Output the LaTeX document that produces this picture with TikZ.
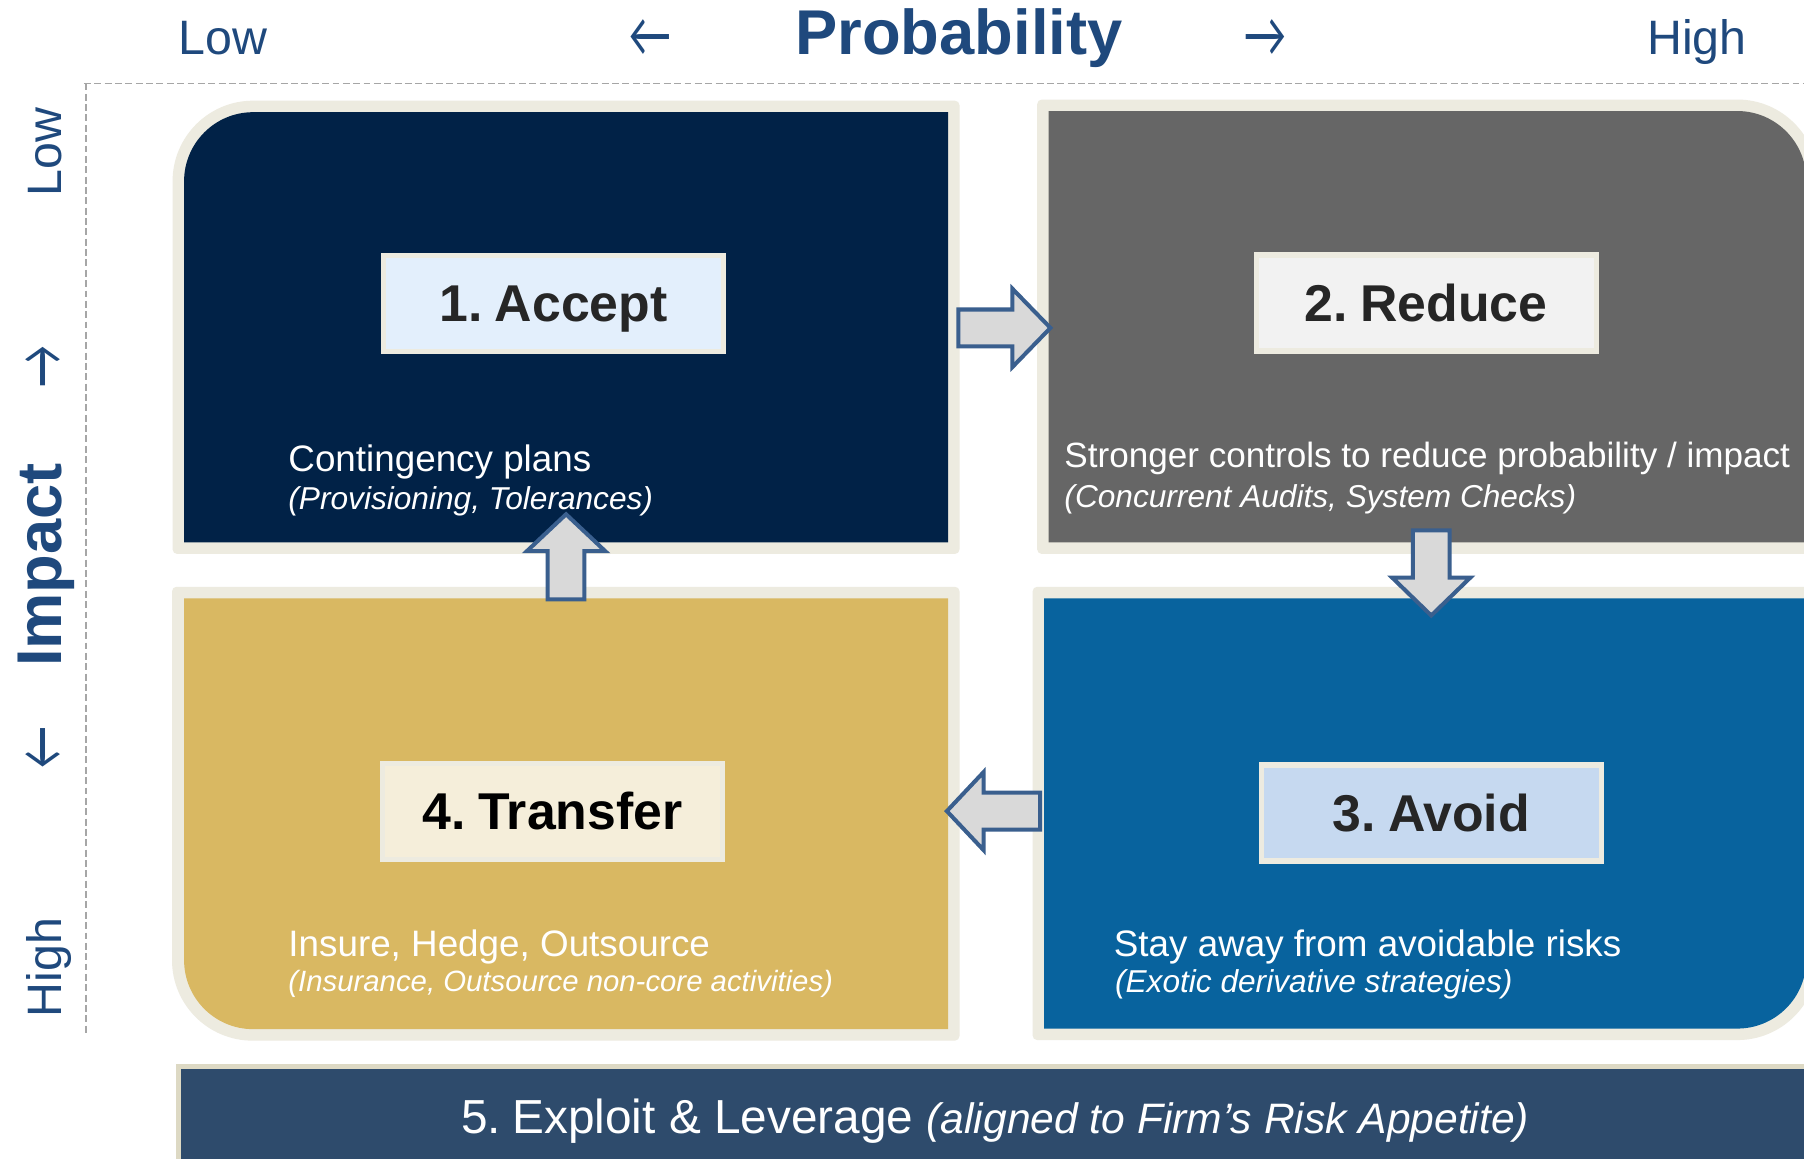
\documentclass[tikz,border=0pt]{standalone}
\usepackage{graphicx}
\usepackage{fontspec}
\setmainfont{Liberation Sans}
\newfontfamily\arrowfont{Carlito}
\definecolor{cream}{RGB}{237,235,224}
\definecolor{navyq}{RGB}{1,34,71}
\definecolor{grayq}{RGB}{102,102,102}
\definecolor{blueq}{RGB}{8,99,158}
\definecolor{goldq}{RGB}{217,184,98}
\definecolor{barq}{RGB}{46,75,108}
\definecolor{barline}{RGB}{221,217,196}
\definecolor{axisblue}{RGB}{31,73,125}
\definecolor{arrowfill}{RGB}{217,217,217}
\definecolor{arrowline}{RGB}{58,95,142}
\definecolor{lblA}{RGB}{227,239,252}
\definecolor{lblR}{RGB}{242,242,242}
\definecolor{lblV}{RGB}{198,217,240}
\definecolor{lblT}{RGB}{245,238,218}
\definecolor{lbltext}{RGB}{38,38,38}
\definecolor{dashgray}{RGB}{166,166,166}
% quadrant shape: x1 y1 x2 y2 rTL rTR rBR rBL colour (y grows downwards)
\newcommand\qshape[9]{%
  \fill[#9] ({#1},{#2+#5}) .. controls ({#1},{#2+0.448*#5}) and ({#1+0.448*#5},{#2}) .. ({#1+#5},{#2})
    -- ({#3-#6},{#2}) .. controls ({#3-0.448*#6},{#2}) and ({#3},{#2+0.448*#6}) .. ({#3},{#2+#6})
    -- ({#3},{#4-#7}) .. controls ({#3},{#4-0.448*#7}) and ({#3-0.448*#7},{#4}) .. ({#3-#7},{#4})
    -- ({#1+#8},{#4}) .. controls ({#1+0.448*#8},{#4}) and ({#1},{#4-0.448*#8}) .. ({#1},{#4-#8})
    -- cycle;}
\newcommand\numsp{\hspace{0.24em}}
\newcommand\axglyph[1]{\scalebox{1}[1.4]{#1}}
\tikzset{
  ax/.style={text=axisblue, inner sep=0pt, font=\fontsize{42}{50}\selectfont},
  axarrow/.style={text=axisblue, inner sep=0pt, font=\arrowfont\fontsize{40}{48}\selectfont},
  axbig/.style={text=axisblue, inner sep=0pt, font=\fontsize{55}{66}\selectfont\bfseries},
  lbl/.style={draw=cream, line width=4.5pt, minimum width=295.5pt, minimum height=83.5pt,
    inner sep=0pt, text height=32pt, text depth=0pt, text=lbltext,
    font=\fontsize{45}{54}\selectfont\bfseries},
  maintxt/.style={text=white, anchor=base west, inner sep=0pt, font=\fontsize{32}{38}\selectfont},
  subtxt/.style={text=white, anchor=base west, inner sep=0pt, font=\fontsize{27.5}{33}\selectfont\itshape},
  blockarrow/.style={fill=arrowfill, draw=arrowline, line width=3.5pt, line join=miter},
  dashline/.style={draw=dashgray, line width=1.5pt, dash pattern=on 6pt off 3pt}
}
\begin{document}
\begin{tikzpicture}[x=1pt,y=-1pt]
\useasboundingbox (0,0) rectangle (1568,1007);
\clip (0,0) rectangle (1568,1007);
\fill[white] (0,0) rectangle (1568,1007);

% axes
\draw[dashline] (73,72.5) -- (1570,72.5);
\draw[dashline] (74.5,72.5) -- (74.5,898);

\node[ax, anchor=base] (plow) at (193.5,47.2) {Low};
\node[axarrow, anchor=center] (pleft) at (565,33) {\axglyph{←}};
\node[axbig, anchor=base] (prob) at (833.5,47.2) {Probability};
\node[axarrow, anchor=center] (pright) at (1100,33) {\axglyph{→}};
\node[ax, anchor=base] (phigh) at (1475,47.2) {High};

\node[ax, rotate=90, anchor=base] (ilow) at (53.6,132) {Low};
\node[axarrow, rotate=90, anchor=center] (iup) at (38.5,319) {\axglyph{→}};
\node[axbig, rotate=90, anchor=base] (imp) at (53.6,491) {Impact};
\node[axarrow, rotate=90, anchor=center] (idown) at (38.5,650) {\axglyph{←}};
\node[ax, rotate=90, anchor=base] (ihigh) at (53.6,841) {High};

% quadrants
\qshape{150}{87.5}{834}{481.5}{70}{4}{4}{4}{cream}
\qshape{160}{97.5}{824}{471.5}{60}{0}{0}{0}{navyq}
\qshape{901.5}{86.5}{1580}{481.5}{4}{70}{4}{4}{cream}
\qshape{911.5}{96.5}{1570}{471.5}{0}{60}{0}{0}{grayq}
\qshape{897.5}{510}{1580}{904}{4}{4}{70}{4}{cream}
\qshape{907.5}{520}{1570}{894}{0}{0}{60}{0}{blueq}
\qshape{149.5}{510}{834}{904.5}{4}{4}{4}{70}{cream}
\qshape{160}{520}{824}{894.5}{0}{0}{0}{60}{goldq}

% bottom bar
\fill[barline] (153,925) rectangle (1580,1020);
\fill[barq] (157,929) rectangle (1580,1020);
\node[text=white, anchor=base, inner sep=0pt, font=\fontsize{41.5}{50}\selectfont] (exploit) at (865,985)
  {5.\numsp Exploit \& Leverage {\itshape\fontsize{37}{44}\selectfont (aligned to Firm’s Risk Appetite)}};

% labels
\node[lbl, fill=lblA] (accept) at (481,263.5) {1.\numsp Accept};
\node[lbl, fill=lblR] (reduce) at (1239.6,263.4) {2.\numsp Reduce};
\node[lbl, fill=lblV] (avoid) at (1244,706.6) {3.\numsp Avoid};
\node[lbl, fill=lblT, text=black] (transfer) at (480.2,705) {4.\numsp Transfer};

\node[maintxt] (acc1) at (250.5,409.5) {Contingency plans};
\node[subtxt] (acc2) at (250.5,442.5) {(Provisioning, Tolerances)};
\node[maintxt, font=\fontsize{30.5}{36}\selectfont] (red1) at (925,406.5) {Stronger controls to reduce probability / impact};
\node[subtxt] (red2) at (925,441) {(Concurrent Audits, System Checks)};
\node[maintxt] (av1) at (968,831) {Stay away from avoidable risks};
\node[subtxt] (av2) at (969,863) {(Exotic derivative strategies)};
\node[maintxt] (tr1) at (250.5,831) {Insure, Hedge, Outsource};
\node[subtxt, font=\fontsize{25.5}{30}\selectfont\itshape] (tr2) at (250.5,861.5) {(Insurance, Outsource non-core activities)};

% block arrows between quadrants
\draw[blockarrow] (833,269) -- (880,269) -- (880,251) -- (913,285) -- (880,319) -- (880,301) -- (833,301) -- cycle;
\draw[blockarrow] (1228,461) -- (1228,502) -- (1210,502) -- (1244,535) -- (1278,502) -- (1260,502) -- (1260,461) -- cycle;
\draw[blockarrow] (904,689) -- (855,689) -- (855,671) -- (823,705) -- (855,739) -- (855,721) -- (904,721) -- cycle;
\draw[blockarrow] (476,521) -- (476,479) -- (458,479) -- (492,447) -- (526,479) -- (508,479) -- (508,521) -- cycle;
\end{tikzpicture}
\end{document}
